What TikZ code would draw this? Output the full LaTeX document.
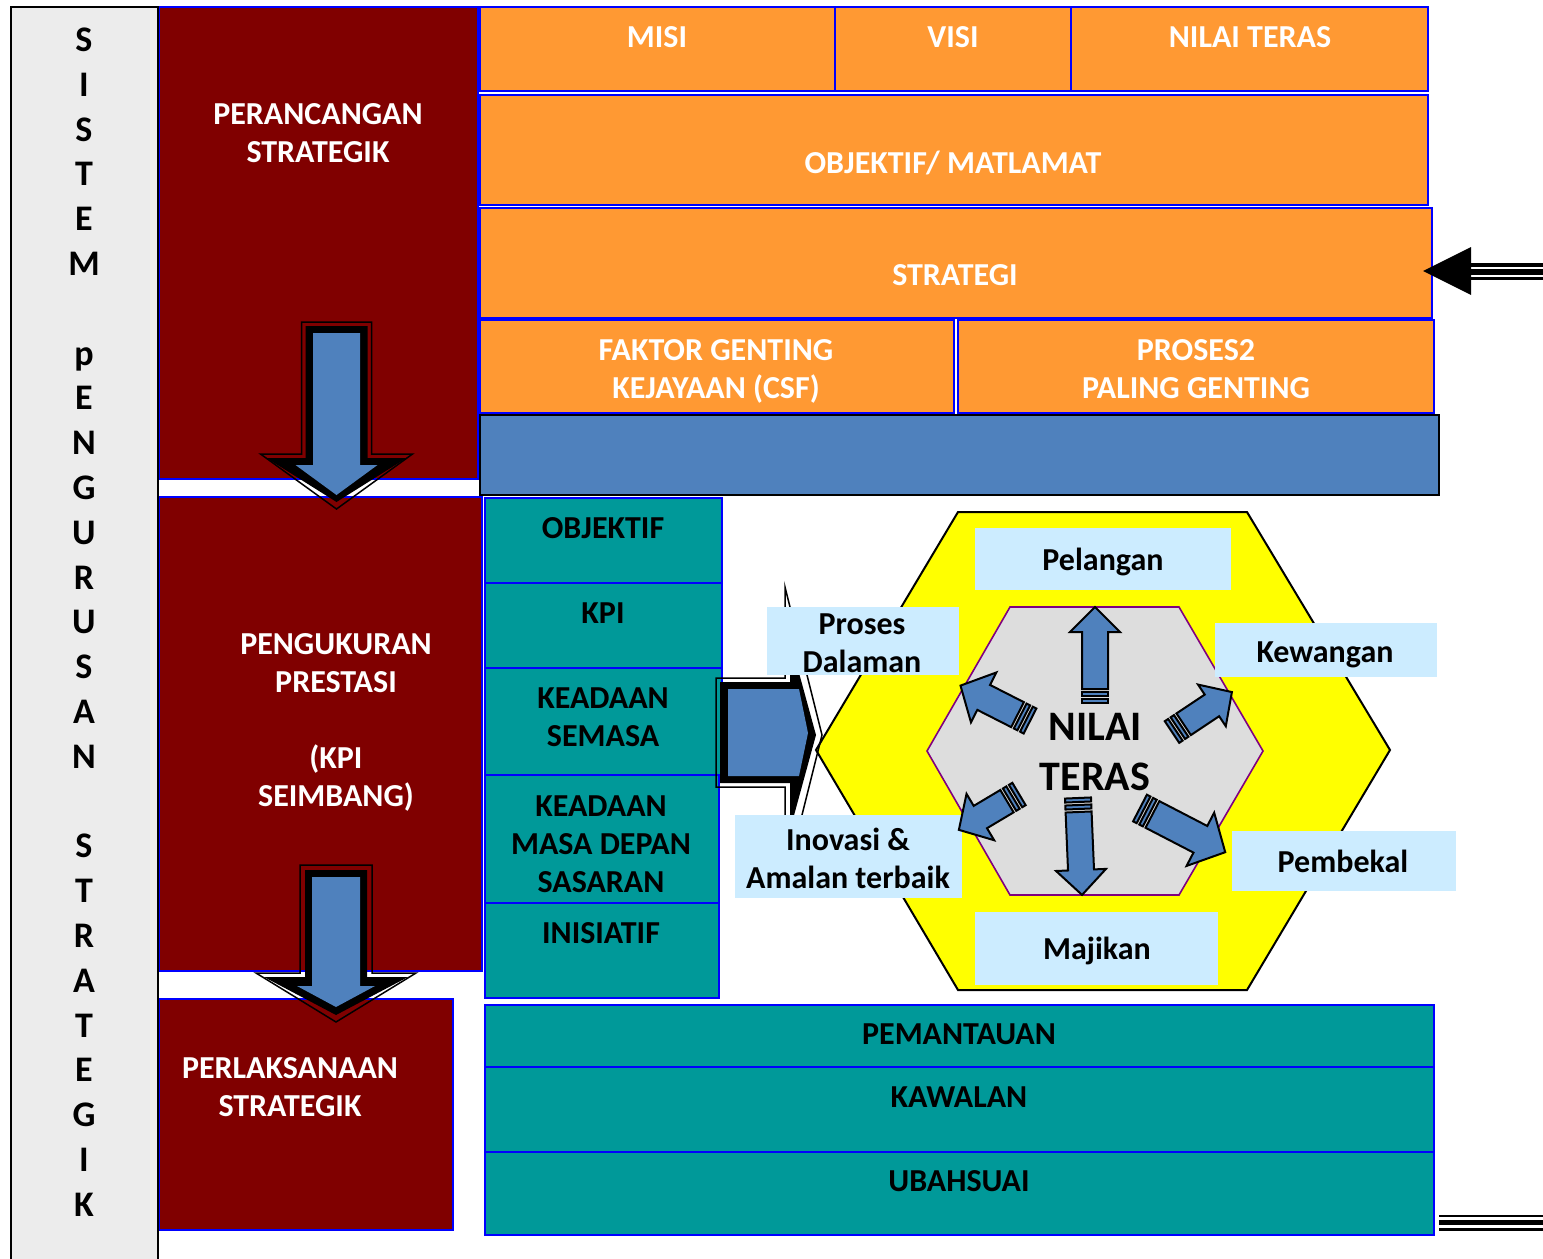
\documentclass[tikz,border=0pt]{standalone}
\usepackage{fontspec}
\setmainfont{Carlito}
\definecolor{mymaroon}{HTML}{800000}
\definecolor{myorange}{HTML}{FF9933}
\definecolor{myblue}{HTML}{4F81BD}
\definecolor{myteal}{HTML}{009999}
\definecolor{mylabel}{HTML}{CCECFF}
\definecolor{myyellow}{HTML}{FFFF00}
\definecolor{mygray}{HTML}{DDDDDD}
\definecolor{mypurple}{HTML}{800080}
\definecolor{myline}{HTML}{0000FF}
\definecolor{bargray}{HTML}{ECECEC}
\newcommand\sarr[7]{%
\begin{scope}[shift={(#1,#2)},rotate=#3]
\draw[sa] (14,-#7) -- (#4-#5,-#7) -- (#4-#5,-#6) -- (#4,0) -- (#4-#5,#6) -- (#4-#5,#7) -- (14,#7) -- cycle;
\draw[sa] (0,-#7) rectangle (4,#7);
\draw[sa] (7,-#7) rectangle (11,#7);
\end{scope}}
\begin{document}
\begin{tikzpicture}[x=0.5pt,y=-0.5pt,
  bx/.style={line width=1.2pt, draw=myline},
  txt/.style={font=\fontsize{16}{19}\selectfont\bfseries, align=center, inner sep=0pt},
  wtxt/.style={txt, text=white},
  btxt/.style={txt, text=black},
  one/.style={text height=10.1pt, text depth=0pt},
  lab/.style={fill=mylabel, draw=none},
  sa/.style={fill=myblue, draw=black, line width=1pt, line join=miter},
  thin/.style={draw=black, line width=0.75pt},
]
\useasboundingbox (0,0) rectangle (1543,1259);
\fill[white] (0,0) rectangle (1543,1259);

% maroon column
\draw[bx, fill=mymaroon] (159,7) rectangle (478,479);
\draw[bx, fill=mymaroon] (159,497) rectangle (482,971);
\draw[bx, fill=mymaroon] (159,999) rectangle (453,1230);
\node[wtxt] (perancangan) at (318,133) {PERANCANGAN\\STRATEGIK};
\node[wtxt] (pengukuran) at (336,722) {PENGUKURAN\\PRESTASI\\[19pt](KPI\\SEIMBANG)};
\node[wtxt] (perlaksanaan) at (290,1087) {PERLAKSANAAN\\STRATEGIK};

% left bar
\draw[line width=1.2pt, fill=bargray] (11,7) rectangle (158,1265);
\foreach \l [count=\i from 0] in {S,I,S,T,E,M,{},p,E,N,G,U,R,U,S,A,N,{},S,T,R,A,T,E,G,I,K}
  \node[txt, text=black, font=\fontsize{18}{20}\selectfont\bfseries, text height=11.5pt, text depth=0pt] (l\i) at (84,{40+44.8*\i}) {\l};

% orange area
\draw[bx, fill=myorange] (480,7) rectangle (835,91);
\draw[bx, fill=myorange] (835,7) rectangle (1071,91);
\draw[bx, fill=myorange] (1071,7) rectangle (1428,91);
\draw[bx, fill=myorange] (480,95) rectangle (1428,205);
\draw[bx, fill=myorange] (480,208) rectangle (1432,318);
\draw[bx, fill=myorange] (480,320) rectangle (954,413);
\draw[bx, fill=myorange] (958,320) rectangle (1434,413);
\node[wtxt, one] (misi) at (657,37) {MISI};
\node[wtxt, one] (visi) at (953,37) {VISI};
\node[wtxt, one] (nilai) at (1250,37) {NILAI TERAS};
\node[wtxt, one] (objektifm) at (953,163) {OBJEKTIF/ MATLAMAT};
\node[wtxt, one] (strategi) at (955,275) {STRATEGI};
\node[wtxt] (csf) at (716,371) {FAKTOR GENTING\\KEJAYAAN (CSF)};
\node[wtxt] (proses2) at (1196,369) {PROSES2\\PALING GENTING};
\draw[line width=1.2pt, draw=black, fill=myblue] (480,415) rectangle (1439,495);

% teal boxes
\draw[bx, fill=myteal] (485,498) rectangle (722,583);
\draw[bx, fill=myteal] (485,583) rectangle (722,668);
\draw[bx, fill=myteal] (485,668) rectangle (722,775);
\draw[bx, fill=myteal] (485,775) rectangle (719,903);
\draw[bx, fill=myteal] (485,903) rectangle (719,998);
\draw[bx, fill=myteal] (485,1005) rectangle (1434,1067);
\draw[bx, fill=myteal] (485,1067) rectangle (1434,1152);
\draw[bx, fill=myteal] (485,1152) rectangle (1434,1235);
\node[btxt, one] (objektif) at (603,528) {OBJEKTIF};
\node[btxt, one] (kpi) at (603,613) {KPI};
\node[btxt] (semasa) at (603,717) {KEADAAN\\SEMASA};
\node[btxt] (depan) at (601,844) {KEADAAN\\MASA DEPAN\\SASARAN};
\node[btxt, one] (inisiatif) at (601,933) {INISIATIF};
\node[btxt, one] (pemantauan) at (959,1034) {PEMANTAUAN};
\node[btxt, one] (kawalan) at (959,1097) {KAWALAN};
\node[btxt, one] (ubahsuai) at (959,1181) {UBAHSUAI};

% down arrows
\draw[thin] (301.5,322) -- (371.5,322) -- (371.5,454) -- (412.5,454) -- (336.5,509) -- (260.5,454) -- (301.5,454) -- cycle;
\fill[black] (305.5,326) -- (367.5,326) -- (367.5,458) -- (406.5,458) -- (336.5,502) -- (266.5,458) -- (305.5,458) -- cycle;
\fill[myblue] (313,333) -- (360,333) -- (360,465) -- (377.5,465) -- (336.5,495) -- (295.5,465) -- (313,465) -- cycle;

\draw[thin] (300,865) -- (372,865) -- (372,973) -- (416,973) -- (336,1022) -- (256,973) -- (300,973) -- cycle;
\fill[black] (305,870) -- (367,870) -- (367,977) -- (408,977) -- (336,1015) -- (264,977) -- (305,977) -- cycle;
\fill[myblue] (312,877) -- (360,877) -- (360,986) -- (375,986) -- (336,1007) -- (297,986) -- (312,986) -- cycle;

% hexagons
\draw[line width=1pt, fill=myyellow] (958,512) -- (1247,512) -- (1390,750) -- (1247,990) -- (958,990) -- (816,750) -- cycle;
\draw[line width=0.8pt, draw=mypurple, fill=mygray] (1010,607) -- (1179,607) -- (1263,751) -- (1179,895) -- (1010,895) -- (927,751) -- cycle;

% right arrow into hexagon
\draw[thin] (716,678) -- (785,678) -- (785,587) -- (822,735) -- (785,883) -- (785,787) -- (716,787) -- cycle;
\fill[black] (720,682) -- (790,682) -- (790,640) -- (816,735) -- (790,830) -- (790,783) -- (720,783) -- cycle;
\fill[myblue] (728,689) -- (799,689) -- (808,733) -- (799,776) -- (728,776) -- cycle;

% labels
\fill[lab] (975,528) rectangle (1231,590);
\fill[lab] (767,607) rectangle (959,675);
\fill[lab] (1215,623) rectangle (1437,677);
\fill[lab] (735,815) rectangle (962,898);
\fill[lab] (1232,831) rectangle (1456,891);
\fill[lab] (975,912) rectangle (1218,985);
\node[btxt, one] (pelangan) at (1103,560) {Pelangan};
\node[btxt] (dalaman) at (862,643) {Proses\\Dalaman};
\node[btxt, one] (kewangan) at (1325,652) {Kewangan};
\node[btxt] (inovasi) at (848,858) {Inovasi \&\\Amalan terbaik};
\node[btxt, one] (pembekal) at (1343,862) {Pembekal};
\node[btxt, one] (majikan) at (1097,949) {Majikan};

% striped arrows
\sarr{1095}{703}{90}{96}{25}{25}{13}
\sarr{1030}{721}{153}{78}{26}{28}{14}
\sarr{1172}{732}{33.7}{72}{24}{25}{13}
\sarr{1019}{794}{-149.2}{70}{25}{27}{13}
\sarr{1078}{798}{-87.6}{97}{25}{25}{13}
\sarr{1140}{808}{-27.4}{96}{28}{30}{15}
\node[txt, text=black, font=\fontsize{21}{25}\selectfont\bfseries] (teras) at (1095,752) {NILAI\\TERAS};

% side arrow (right of STRATEGI)
\fill[black] (1423,271) -- (1471,247) -- (1471,295) -- cycle;
\draw[line width=2pt] (1471,265) -- (1545,265);
\draw[line width=3pt] (1471,272) -- (1545,272);
\draw[line width=1.5pt] (1471,278.5) -- (1545,278.5);
% bottom right lines
\draw[line width=1.2pt] (1439,1216.2) -- (1545,1216.2);
\draw[line width=2.5pt] (1439,1222.5) -- (1545,1222.5);
\draw[line width=1.2pt] (1439,1229.5) -- (1545,1229.5);
\end{tikzpicture}
\end{document}
